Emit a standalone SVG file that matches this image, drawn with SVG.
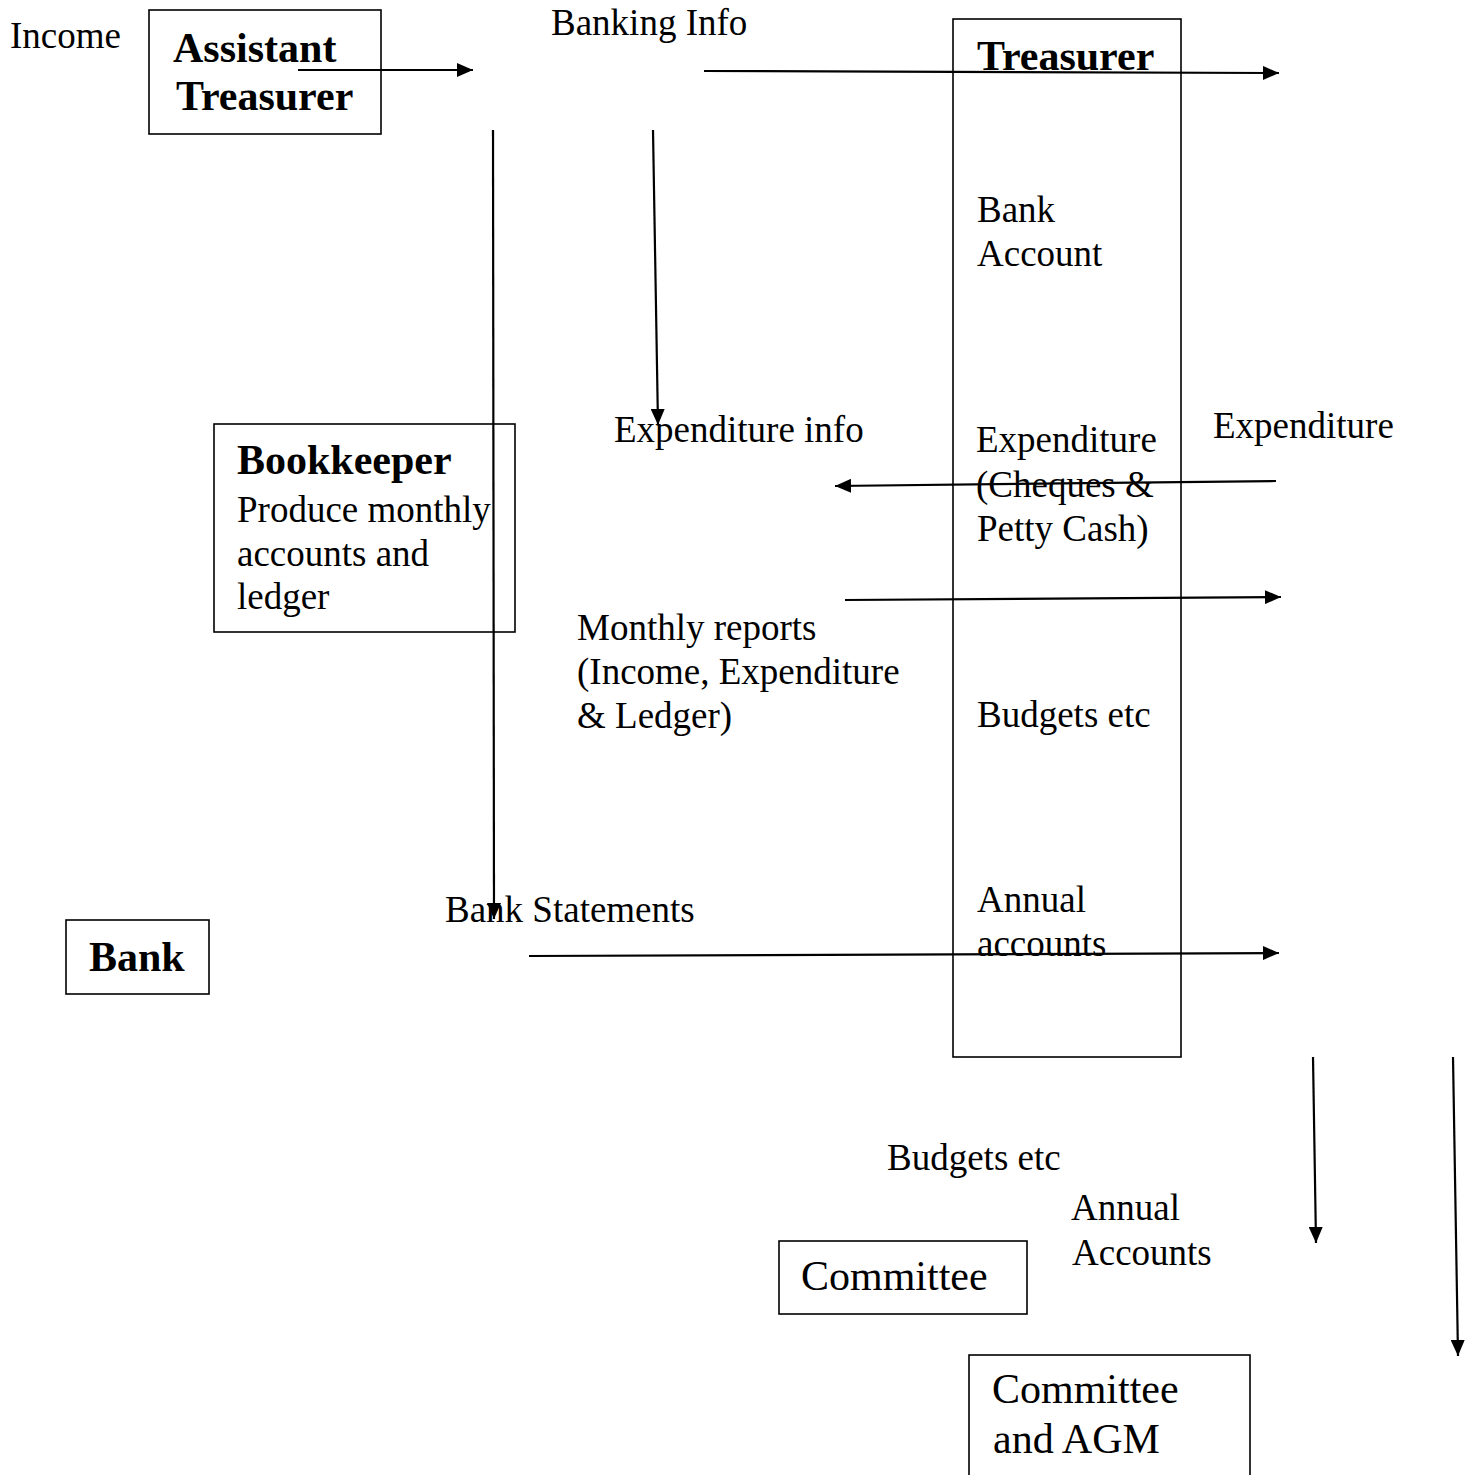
<svg xmlns="http://www.w3.org/2000/svg" width="1475" height="1475" viewBox="0 0 1475 1475">
<style>
.box{fill:none;stroke:#000;stroke-width:1.6}
.t{font-family:"Liberation Serif","Times New Roman",serif;font-size:37px;fill:#000}
.b{font-family:"Liberation Serif","Times New Roman",serif;font-size:42px;font-weight:bold;fill:#000}
.c{font-family:"Liberation Serif","Times New Roman",serif;font-size:42px;fill:#000}
.ln{fill:none;stroke:#000;stroke-width:2.2;marker-end:url(#ah)}
</style>
<defs>
<marker id="ah" markerUnits="userSpaceOnUse" markerWidth="16" markerHeight="14" refX="16" refY="7" orient="auto">
<path d="M0,0 L16,7 L0,14 z" fill="#000"/>
</marker>
</defs>
<rect width="1475" height="1475" fill="#fff"/>
<g id="assistant-treasurer">
<rect class="box" x="149" y="10" width="232" height="124"/>
<text class="b" x="173" y="62">Assistant</text>
<text class="b" x="176" y="110">Treasurer</text>
</g>
<g id="treasurer">
<rect class="box" x="953" y="19" width="228" height="1038"/>
<text class="b" x="977" y="70">Treasurer</text>
<text class="t" x="977" y="222">Bank</text>
<text class="t" x="977" y="266">Account</text>
<text class="t" x="976" y="452">Expenditure</text>
<text class="t" x="976" y="497">(Cheques &amp;</text>
<text class="t" x="977" y="541">Petty Cash)</text>
<text class="t" x="977" y="727">Budgets etc</text>
<text class="t" x="977" y="912">Annual</text>
<text class="t" x="977" y="956">accounts</text>
</g>
<g id="bookkeeper">
<rect class="box" x="214" y="424" width="301" height="208"/>
<text class="b" x="237" y="474">Bookkeeper</text>
<text class="t" x="237" y="522">Produce monthly</text>
<text class="t" x="237" y="566">accounts and</text>
<text class="t" x="237" y="609">ledger</text>
</g>
<g id="bank">
<rect class="box" x="66" y="920" width="143" height="74"/>
<text class="b" x="89" y="971">Bank</text>
</g>
<g id="committee">
<rect class="box" x="779" y="1241" width="248" height="73"/>
<text class="c" x="801" y="1290">Committee</text>
</g>
<g id="committee-agm">
<rect class="box" x="969" y="1355" width="281" height="130"/>
<text class="c" x="992" y="1403">Committee</text>
<text class="c" x="993" y="1453">and AGM</text>
</g>
<g id="labels">
<text class="t" x="10" y="48">Income</text>
<text class="t" x="551" y="35">Banking Info</text>
<text class="t" x="614" y="442">Expenditure info</text>
<text class="t" x="1213" y="438">Expenditure</text>
<text class="t" x="577" y="640">Monthly reports</text>
<text class="t" x="577" y="684">(Income, Expenditure</text>
<text class="t" x="577" y="728">&amp; Ledger)</text>
<text class="t" x="445" y="922">Bank Statements</text>
<text class="t" x="887" y="1170">Budgets etc</text>
<text class="t" x="1071" y="1220">Annual</text>
<text class="t" x="1072" y="1265">Accounts</text>
</g>
<g id="connectors">
<line class="ln" x1="298" y1="70" x2="473" y2="70"/>
<line class="ln" x1="704" y1="71" x2="1279" y2="73"/>
<line class="ln" x1="493" y1="130" x2="494" y2="919"/>
<line class="ln" x1="653" y1="130" x2="658" y2="425"/>
<line class="ln" x1="1276" y1="481" x2="835" y2="486"/>
<line class="ln" x1="845" y1="600" x2="1281" y2="597"/>
<line class="ln" x1="529" y1="956" x2="1279" y2="953"/>
<line class="ln" x1="1313" y1="1057" x2="1316" y2="1243"/>
<line class="ln" x1="1453" y1="1057" x2="1458" y2="1356"/>
</g>
</svg>
